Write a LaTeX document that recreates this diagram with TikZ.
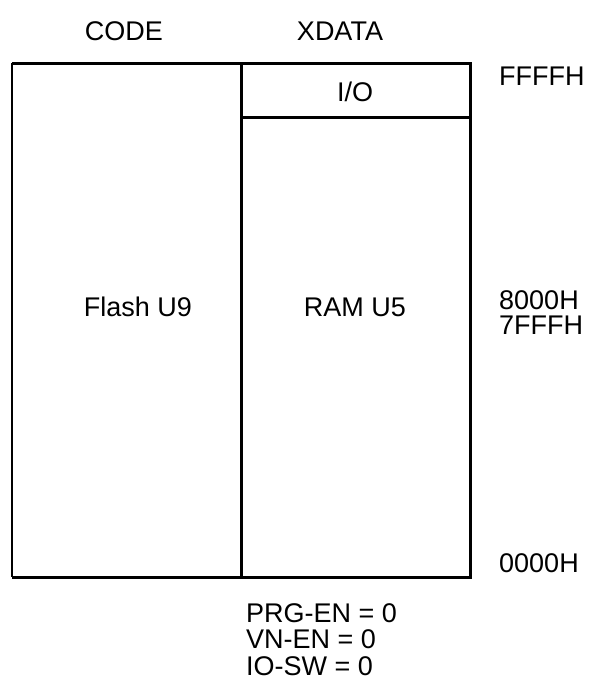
\documentclass[tikz,border=0pt]{standalone}
\usepackage{fontspec}
\setmainfont{Liberation Sans}
\begin{document}
\begin{tikzpicture}[x=1pt,y=-1pt,
  lbl/.style={font=\fontsize{27}{27}\selectfont, inner sep=0pt},
  thickline/.style={line width=3pt},
  thinline/.style={line width=1.8pt}]
\useasboundingbox (0,0) rectangle (604,697);
% coordinates
\coordinate (tl) at (12,63);
\coordinate (tm) at (241,63);
\coordinate (tr) at (470,63);
\coordinate (bl) at (12,577);
\coordinate (bm) at (241,577);
\coordinate (br) at (470,577);
\coordinate (iol) at (241,117);
\coordinate (ior) at (470,117);
% box lines
\draw[thinline] (tl) -- (bl);
\draw[thickline] (tl) -- (tr) -- (br) -- (bl);
\draw[thickline] (tm) -- (bm);
\draw[thickline] (iol) -- (ior);
% titles
\node[lbl, anchor=base] (code) at (124,40) {CODE};
\node[lbl, anchor=base] (xdata) at (340,40) {XDATA};
% box labels
\node[lbl, anchor=base] (io) at (355,101) {I/O};
\node[lbl, anchor=base] (flash) at (138,316) {Flash U9};
\node[lbl, anchor=base] (ram) at (355,316) {RAM U5};
% addresses
\node[lbl, anchor=base west] (ffff) at (499,85) {FFFFH};
\node[lbl, anchor=base west] (a8000) at (499,309) {8000H};
\node[lbl, anchor=base west] (a7fff) at (499,334) {7FFFH};
\node[lbl, anchor=base west] (a0000) at (499,572) {0000H};
% settings
\node[lbl, anchor=base west] (prg) at (246,622) {PRG-EN = 0};
\node[lbl, anchor=base west] (vn) at (246,648) {VN-EN = 0};
\node[lbl, anchor=base west] (iosw) at (246,675) {IO-SW = 0};
\end{tikzpicture}
\end{document}
